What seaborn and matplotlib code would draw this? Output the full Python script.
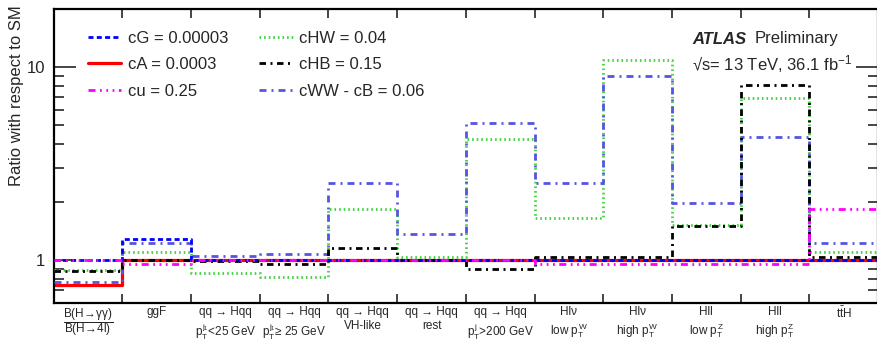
import numpy as np
import pandas as pd
import matplotlib
matplotlib.use("Agg")
import matplotlib.pyplot as plt
import seaborn as sns
from matplotlib.ticker import LogLocator, NullFormatter

# ---------------- data ----------------
categories = [
    r"$\dfrac{\mathrm{B(H\!\rightarrow\!\gamma\gamma)}}{\mathrm{B(H\!\rightarrow\! 4l)}}$",
    "ggF",
    "qq \u2192 Hqq\n$p_T^{j_1}$<25 GeV",
    "qq \u2192 Hqq\n$p_T^{j_1}$\u2265 25 GeV",
    "qq \u2192 Hqq\nVH-like",
    "qq \u2192 Hqq\nrest",
    "qq \u2192 Hqq\n$p_T^{j}$>200 GeV",
    "Hl\u03bd\nlow $p_T^W$",
    "Hl\u03bd\nhigh $p_T^W$",
    "Hll\nlow $p_T^Z$",
    "Hll\nhigh $p_T^Z$",
    r"t$\bar{\mathrm{t}}$H",
]

series_names = ["cG = 0.00003", "cA = 0.0003", "cu = 0.25",
                "cHW = 0.04", "cHB = 0.15", "cWW - cB = 0.06"]

cG = [1.0, 1.28, 1.0, 1.0, 1.0, 1.0, 1.0, 1.0, 1.0, 1.0, 1.0, 1.0]
cA = [0.745, 1.0, 1.0, 1.0, 1.0, 1.0, 1.0, 1.0, 1.0, 1.0, 1.0, 1.0]
cu = [1.0, 0.955, 1.0, 1.0, 1.0, 1.0, 1.0, 0.953, 0.953, 0.953, 0.953, 1.83]
cHW = [0.89, 1.10, 0.856, 0.816, 1.84, 1.036, 4.23, 1.65, 10.9, 1.51, 6.94, 1.10]
cHB = [0.872, 1.0, 0.983, 0.958, 1.16, 1.0, 0.90, 1.036, 1.036, 1.50, 8.09, 1.03]
cWWcB = [0.764, 1.226, 1.05, 1.075, 2.50, 1.366, 5.11, 2.50, 9.01, 1.965, 4.33, 1.22]

series_values = [cG, cA, cu, cHW, cHB, cWWcB]

# ---------------- style ----------------
sns.set_theme(style="ticks")
plt.rcParams['font.family'] = ['Liberation Sans', 'DejaVu Sans']
plt.rcParams['mathtext.fontset'] = 'custom'
plt.rcParams['mathtext.rm'] = 'Liberation Sans'
plt.rcParams['mathtext.it'] = 'Liberation Sans'
plt.rcParams['mathtext.bf'] = 'Liberation Sans:bold'
plt.rcParams['mathtext.sf'] = 'Liberation Sans'
plt.rcParams['lines.scale_dashes'] = False

px = 0.72  # points per pixel at 100 dpi
styles = [
    dict(color="#0000ff", ls=(0, (5 * px, 3.3 * px)), lw=2.0, z=5),
    dict(color="#ff0000", ls="-", lw=2.3, z=2),
    dict(color="#ff00ff", ls=(0, (7 * px, 4.5 * px, 1.8 * px, 4.5 * px, 1.8 * px, 4.5 * px, 1.8 * px, 4.5 * px)), lw=2.0, z=6),
    dict(color="#40d040", ls=(0, (1.6 * px, 3.0 * px)), lw=2.0, z=3),
    dict(color="#000000", ls=(0, (6.5 * px, 4.5 * px, 2 * px, 4.5 * px)), lw=2.0, z=4),
    dict(color="#5555e0", ls=(0, (7 * px, 5 * px, 2 * px, 5 * px)), lw=2.0, z=3.5),
]

W, H = 877, 341
fig = plt.figure(figsize=(W / 100, H / 100), dpi=100)
ax_left, ax_right, ax_top, ax_bot = 53.7, 878.0, 9.3, 302.7
ax = fig.add_axes([ax_left / W, 1 - ax_bot / H, (ax_right - ax_left) / W, (ax_bot - ax_top) / H])

edges = np.arange(len(categories) + 1)
for name, vals, st in zip(series_names, series_values, styles):
    df = pd.DataFrame({"x": edges, "y": list(vals) + [vals[-1]]})
    sns.lineplot(data=df, x="x", y="y", ax=ax, drawstyle="steps-post",
                 color=st["color"], linestyle=st["ls"], lw=st["lw"],
                 zorder=st["z"], label=name, legend=False)

ax.set_yscale("log")
ax.set_xlim(0, len(categories))
ax.set_ylim(0.6, 20)

ax.set_xticks(np.arange(1, len(categories)))
ax.set_xticklabels([])
ax.set_xticks(np.arange(len(categories)) + 0.5, minor=True)
ax.set_xticklabels(categories, minor=True, fontsize=8.5, linespacing=1.22)
ax.tick_params(axis="x", which="major", direction="in", length=6.5, width=1.2,
               top=True, bottom=True, labelbottom=False)
ax.tick_params(axis="x", which="minor", length=0, pad=2.5, top=False)

ax.set_yticks([1, 10])
ax.set_yticklabels(["1", "10"])
ax.yaxis.set_minor_locator(LogLocator(base=10, subs=np.arange(2, 10)))
ax.yaxis.set_minor_formatter(NullFormatter())
ax.tick_params(axis="y", which="major", direction="in", length=16, width=1.2,
               left=True, right=True, labelsize=12, pad=6)
ax.tick_params(axis="y", which="minor", direction="in", length=7, width=1.2,
               left=True, right=True)

for sp in ax.spines.values():
    sp.set_linewidth(1.6)
    sp.set_color("black")

ax.set_xlabel("")
ax.set_ylabel("")
fig.text(17 / W, 1 - 5 / H, "Ratio with respect to SM", rotation=90,
         ha="center", va="top", fontsize=12)

handles = ax.get_lines()[:len(series_names)]
leg = ax.legend(handles, series_names, loc="upper left", ncol=2, frameon=False,
                fontsize=12, handlelength=2.0, handletextpad=0.4,
                columnspacing=1.85, labelspacing=0.68, borderpad=0,
                borderaxespad=0,
                bbox_to_anchor=(88 / W, 1 - 31 / H), bbox_transform=fig.transFigure)

fig.text(692 / W, 1 - 39 / H, "ATLAS", fontsize=12, fontweight="bold",
         fontstyle="italic", va="center", ha="left")
fig.text(755 / W, 1 - 39 / H, "Preliminary", fontsize=12, va="center", ha="left")
fig.text(692 / W, 1 - 64 / H, "\u221as= 13 TeV, 36.1 fb$^{-1}$", fontsize=12,
         va="center", ha="left")

fig.savefig("out.png", dpi=100)
